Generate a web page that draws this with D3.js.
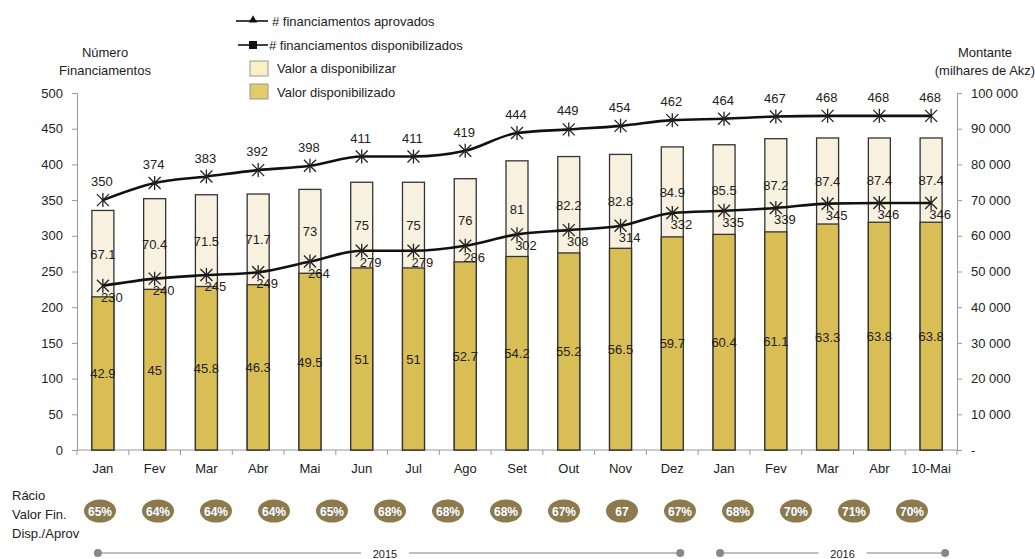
<!DOCTYPE html>
<html>
<head>
<meta charset="utf-8">
<script src="https://cdn.jsdelivr.net/npm/d3@7"></script>
<style>
  body { margin: 0; background: #fff; }
  svg text { font-family: "Liberation Sans", Arial, sans-serif; fill: #222; }
</style>
</head>
<body>
<svg id="chart" width="1035" height="559"></svg>
<script>
// categories (months, two years)
var months = ["Jan", "Fev", "Mar", "Abr", "Mai", "Jun", "Jul", "Ago", "Set", "Out", "Nov", "Dez",
  "Jan", "Fev", "Mar", "Abr", "10-Mai"];
// number of financings
var aprovados = [350, 374, 383, 392, 398, 411, 411, 419, 444, 449, 454, 462, 464, 467, 468, 468, 468];
var disponibilizados = [230, 240, 245, 249, 264, 279, 279, 286, 302, 308, 314, 332, 335, 339, 345, 346, 346];
// amounts, total approved and already made available (labels in thousands of the right axis unit)
var valorTotal = [67.1, 70.4, 71.5, 71.7, 73, 75, 75, 76, 81, 82.2, 82.8, 84.9, 85.5, 87.2, 87.4, 87.4, 87.4];
var valorDisp = [42.9, 45, 45.8, 46.3, 49.5, 51, 51, 52.7, 54.2, 55.2, 56.5, 59.7, 60.4, 61.1, 63.3, 63.8, 63.8];
// ratio badges under the chart
var racio = ["65%", "64%", "64%", "64%", "65%", "68%", "68%", "68%", "67%", "67", "67%", "68%", "70%", "71%", "70%"];
var anos = ["2015", "2016"];

var svg = d3.select("#chart");
var pLeft = 77, pRight = 957, pTop = 93, pBottom = 450;

var xStep = (pRight - pLeft) / months.length;
var cx = function (i) { return pLeft + xStep * (i + 0.5); };
var yL = d3.scaleLinear().domain([0, 500]).range([pBottom, pTop]);
var yR = d3.scaleLinear().domain([0, 100000]).range([pBottom, pTop]);

// axes
var axL = svg.append("g").attr("transform", "translate(" + pLeft + ",0)")
  .call(d3.axisLeft(yL).tickValues(d3.range(0, 501, 50)).tickSize(5).tickPadding(9));
var axR = svg.append("g").attr("transform", "translate(" + pRight + ",0)")
  .call(d3.axisRight(yR).tickValues(d3.range(0, 100001, 10000)).tickSize(5).tickPadding(9)
    .tickFormat(function (d) { return d === 0 ? "-" : d3.format(",")(d).replace(/,/g, " "); }));
[axL, axR].forEach(function (a) {
  a.select(".domain").attr("stroke", "#999");
  a.selectAll(".tick line").attr("stroke", "#999");
  a.selectAll(".tick text").style("font-size", "13px").attr("fill", "#222");
});

// x axis
svg.append("line").attr("x1", pLeft).attr("x2", pRight).attr("y1", pBottom).attr("y2", pBottom).attr("stroke", "#999");
svg.append("g").selectAll("line").data(d3.range(months.length + 1)).enter().append("line")
  .attr("x1", function (i) { return pLeft + xStep * i; })
  .attr("x2", function (i) { return pLeft + xStep * i; })
  .attr("y1", pBottom).attr("y2", pBottom + 5).attr("stroke", "#999");
svg.append("g").selectAll("text").data(months).enter().append("text")
  .attr("x", function (d, i) { return cx(i); })
  .attr("y", 473).attr("text-anchor", "middle").style("font-size", "13px")
  .text(function (d) { return d; });

// bars
var bw = 22;
svg.append("g").selectAll("rect").data(valorTotal).enter().append("rect")
  .attr("x", function (d, i) { return cx(i) - bw / 2; })
  .attr("width", bw)
  .attr("y", function (d) { return yR(d * 1000); })
  .attr("height", function (d) { return pBottom - yR(d * 1000); })
  .attr("fill", "#F8F1DF").attr("stroke", "#333").attr("stroke-width", 1.3);
svg.append("g").selectAll("rect").data(valorDisp).enter().append("rect")
  .attr("x", function (d, i) { return cx(i) - bw / 2; })
  .attr("width", bw)
  .attr("y", function (d) { return yR(d * 1000); })
  .attr("height", function (d) { return pBottom - yR(d * 1000); })
  .attr("fill", "#D9BE56").attr("stroke", "#333").attr("stroke-width", 1.3);

// bar labels
svg.append("g").selectAll("text").data(valorDisp).enter().append("text")
  .attr("x", function (d, i) { return cx(i); })
  .attr("y", function (d) { return yR(d * 500) + 5; })
  .attr("text-anchor", "middle").style("font-size", "13px")
  .text(function (d) { return d; });
svg.append("g").selectAll("text").data(valorTotal).enter().append("text")
  .attr("x", function (d, i) { return cx(i); })
  .attr("y", function (d, i) { return yR((d + valorDisp[i]) * 500) + 5; })
  .attr("text-anchor", "middle").style("font-size", "13px")
  .text(function (d) { return d; });

// lines
var line = d3.line().x(function (d, i) { return cx(i); }).y(function (d) { return yL(d); }).curve(d3.curveMonotoneX);
[aprovados, disponibilizados].forEach(function (s) {
  svg.append("path").datum(s).attr("d", line).attr("fill", "none").attr("stroke", "#111").attr("stroke-width", 2.6);
  svg.append("g").selectAll("path").data(s).enter().append("path")
    .attr("transform", function (d, i) { return "translate(" + cx(i) + "," + yL(d) + ")"; })
    .attr("d", "M-6,-6L6,6M-6,6L6,-6M0,-7L0,7")
    .attr("stroke", "#222").attr("stroke-width", 1.3).attr("fill", "none");
});
svg.append("g").selectAll("text").data(aprovados).enter().append("text")
  .attr("x", function (d, i) { return cx(i) - 1; })
  .attr("y", function (d) { return yL(d) - 14; })
  .attr("text-anchor", "middle").style("font-size", "13px")
  .text(function (d) { return d; });
svg.append("g").selectAll("text").data(disponibilizados).enter().append("text")
  .attr("x", function (d, i) { return cx(i) + 9; })
  .attr("y", function (d) { return yL(d) + 16; })
  .attr("text-anchor", "middle").style("font-size", "13px")
  .text(function (d) { return d; });

// axis titles
svg.append("text").attr("x", 105).attr("y", 57).attr("text-anchor", "middle").style("font-size", "13px").text("Número");
svg.append("text").attr("x", 105).attr("y", 75).attr("text-anchor", "middle").style("font-size", "13px").text("Financiamentos");
svg.append("text").attr("x", 985).attr("y", 57).attr("text-anchor", "middle").style("font-size", "13px").text("Montante");
svg.append("text").attr("x", 985).attr("y", 75).attr("text-anchor", "middle").style("font-size", "13px").text("(milhares de Akz)");

// legend
var lg = svg.append("g").style("font-size", "13px");
lg.append("line").attr("x1", 236).attr("x2", 268).attr("y1", 21).attr("y2", 21).attr("stroke", "#111").attr("stroke-width", 1.6);
lg.append("path").attr("d", d3.symbol(d3.symbolTriangle, 30)()).attr("transform", "translate(253,20)").attr("fill", "#111");
lg.append("text").attr("x", 272).attr("y", 26).text("# financiamentos aprovados");
lg.append("line").attr("x1", 238).attr("x2", 268).attr("y1", 45).attr("y2", 45).attr("stroke", "#111").attr("stroke-width", 1.6);
lg.append("rect").attr("x", 249).attr("y", 41).attr("width", 8).attr("height", 8).attr("fill", "#111");
lg.append("text").attr("x", 269).attr("y", 50).text("# financiamentos disponibilizados");
lg.append("rect").attr("x", 250).attr("y", 61).attr("width", 18).attr("height", 15).attr("fill", "#FAF0C6").attr("stroke", "#999");
lg.append("text").attr("x", 277).attr("y", 73).text("Valor a disponibilizar");
lg.append("rect").attr("x", 250).attr("y", 84).attr("width", 18).attr("height", 15).attr("fill", "#E2CB6B").attr("stroke", "#999");
lg.append("text").attr("x", 277).attr("y", 97).text("Valor disponibilizado");

// ratio row
["Rácio", "Valor Fin.", "Disp./Aprov"].forEach(function (t, i) {
  svg.append("text").attr("x", 12).attr("y", 500 + i * 19).style("font-size", "13px").text(t);
});
var xr = d3.scalePoint().domain(d3.range(racio.length)).range([100, 912]);
var rg = svg.append("g").selectAll("g").data(racio).enter().append("g")
  .attr("transform", function (d, i) { return "translate(" + xr(i) + ",511)"; });
rg.append("ellipse").attr("rx", 16).attr("ry", 11.5).attr("fill", "#8C7A4B");
rg.append("text").attr("y", 4.5).attr("text-anchor", "middle")
  .style("font-size", "12px").style("font-weight", "bold")
  .style("fill", "#fff").style("stroke", "#777").style("stroke-width", 0.6).style("paint-order", "stroke")
  .text(function (d) { return d; });

// years timeline
var spans = [[cx(0) - 5, cx(11) + 8], [cx(12) - 4, cx(16) + 14]];
spans.forEach(function (s, k) {
  var g = svg.append("g");
  var mid = k === 0 ? 385 : (s[0] + s[1]) / 2 + 10;
  g.append("line").attr("x1", s[0]).attr("x2", mid - 24).attr("y1", 553).attr("y2", 553).attr("stroke", "#aaa").attr("stroke-width", 1.5);
  g.append("line").attr("x1", mid + 24).attr("x2", s[1]).attr("y1", 553).attr("y2", 553).attr("stroke", "#aaa").attr("stroke-width", 1.5);
  g.append("circle").attr("cx", s[0]).attr("cy", 553).attr("r", 4).attr("fill", "#888");
  g.append("circle").attr("cx", s[1]).attr("cy", 553).attr("r", 4).attr("fill", "#888");
  g.append("text").attr("x", mid).attr("y", 558).attr("text-anchor", "middle").style("font-size", "11px").text(anos[k]);
});
</script>
</body>
</html>
